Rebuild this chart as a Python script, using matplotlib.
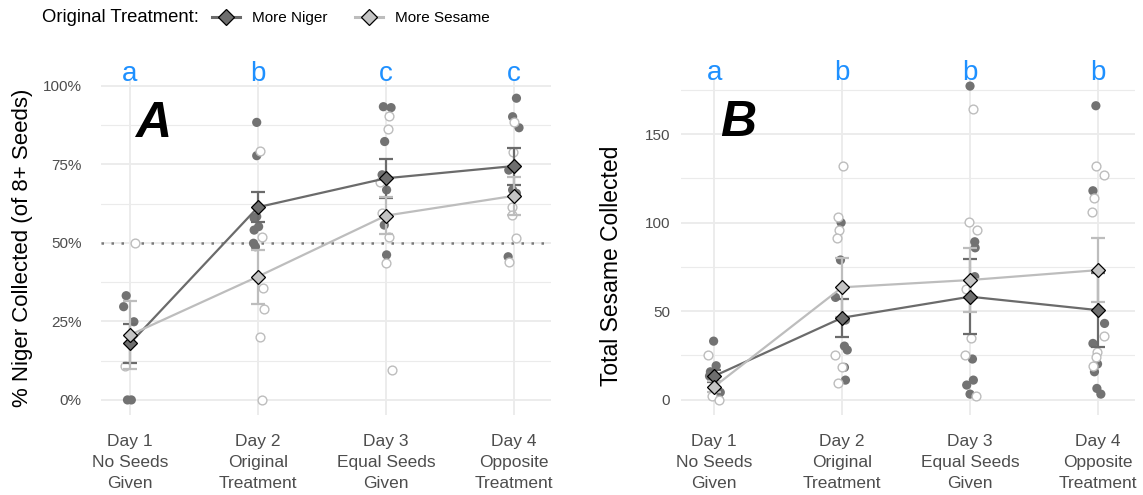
import numpy as np
import matplotlib
matplotlib.use("Agg")
import matplotlib.pyplot as plt
from matplotlib.lines import Line2D
from matplotlib.ticker import FuncFormatter, MultipleLocator

plt.rcParams['font.family'] = ['Liberation Sans', 'DejaVu Sans']

# ---------------- data ----------------
days = ["Day 1\nNo Seeds\nGiven", "Day 2\nOriginal\nTreatment",
        "Day 3\nEqual Seeds\nGiven", "Day 4\nOpposite\nTreatment"]
groups = ["More Niger", "More Sesame"]

# Panel A: % Niger collected (individual points, per day)
a_niger_pts = [[33.2, 29.7, 24.9, 0, 0],
               [88.4, 77.8, 57.9, 58.4, 55.2, 54.1, 49.9, 48.8],
               [93.4, 93.1, 82.3, 71.7, 66.9, 55.7, 46.2],
               [96.1, 90.2, 86.7, 73.2, 66.9, 65.8, 45.6]]
a_niger_jit = [[-0.03, -0.05, 0.03, -0.02, 0.01],
               [-0.01, -0.01, -0.03, -0.01, 0.005, -0.03, -0.035, -0.02],
               [-0.02, 0.04, -0.01, -0.03, 0.005, -0.013, 0.005],
               [0.02, -0.01, 0.04, -0.04, -0.01, 0.02, -0.045]]
a_ses_pts = [[50, 10.8],
             [79.4, 52.0, 35.6, 29.0, 20.0, 0],
             [90.4, 86.3, 69.5, 59.4, 52.0, 43.7, 9.6],
             [88.6, 79.1, 61.6, 58.9, 51.7, 44.0]]
a_ses_jit = [[0.04, -0.04],
             [0.013, 0.03, 0.04, 0.044, 0.018, 0.03],
             [0.02, 0.013, -0.047, -0.033, 0.026, 0.0, 0.045],
             [0.0, -0.01, -0.018, -0.018, 0.02, -0.037]]
a_niger_mean = [18.0, 61.4, 70.6, 74.5]
a_niger_se = [6.1, 4.7, 6.2, 5.9]
a_ses_mean = [20.7, 39.3, 58.7, 65.0]
a_ses_se = [10.7, 8.6, 6.0, 6.1]
a_letters = ["a", "b", "c", "c"]

# Panel B: total sesame collected
b_niger_pts = [[33.1, 19.2, 15.8, 13.4, 4.2, 0.8],
               [100, 78.9, 57.8, 45.0, 30.3, 28.1, 18.3, 11.1],
               [177.1, 89.2, 85.8, 69.5, 23.0, 11.1, 8.3, 3.2],
               [166, 118, 43.1, 31.8, 20.2, 15.8, 6.4, 3.2]]
b_niger_jit = [[-0.005, 0.015, -0.03, -0.037, 0.047, 0.034],
               [-0.008, -0.013, -0.052, 0.026, 0.018, 0.04, 0.018, 0.026],
               [0.0, 0.037, 0.04, 0.037, 0.019, 0.026, -0.026, 0.0],
               [-0.016, -0.039, 0.052, -0.039, -0.003, -0.027, -0.008, 0.023]]
b_ses_pts = [[25, 2.3, 0],
             [132, 103.3, 95.8, 91.1, 25.2, 18.3, 9.3],
             [164.1, 100.2, 95.8, 62.3, 35.0, 25.2, 2.1],
             [132, 126.9, 114.1, 106.2, 36.0, 27.1, 24.3, 19.2]]
b_ses_jit = [[-0.05, -0.018, 0.034],
             [0.008, -0.034, -0.026, -0.039, -0.052, 0.0, -0.034],
             [0.026, -0.008, 0.052, -0.034, 0.005, -0.042, 0.044],
             [-0.013, 0.044, -0.034, -0.047, 0.044, -0.008, -0.013, -0.039]]
b_niger_mean = [13.4, 46.3, 58.2, 50.6]
b_niger_se = [3.5, 10.7, 21.0, 21.0]
b_ses_mean = [7.4, 63.5, 67.6, 73.2]
b_ses_se = [3.0, 16.7, 18.2, 17.9]
b_letters = ["a", "b", "b", "b"]

# ---------------- style ----------------
DARK = "#6e6e6e"
DARK_LINE = "#6b6b6b"
LIGHT = "#bdbdbd"
LIGHT_FILL = "#c4c4c4"
GRID = "#ebebeb"
TICK_C = "#4d4d4d"
LETTER_C = "#1E90FF"

W, H = 1143, 495
fig = plt.figure(figsize=(W / 100, H / 100), dpi=100)
axA = fig.add_axes([101 / W, 1 - 415 / H, 450 / W, 335 / H])
axB = fig.add_axes([681 / W, 1 - 415 / H, 454 / W, 336 / H])


def draw_panel(ax, niger_pts, niger_jit, ses_pts, ses_jit,
               nm, nse, sm, sse, letters):
    xs = np.arange(1, len(days) + 1)
    for i, x in enumerate(xs):
        ax.scatter(x + np.array(niger_jit[i]), niger_pts[i], s=44,
                   color="#727272", edgecolors="none", zorder=3)
        ax.scatter(x + np.array(ses_jit[i]), ses_pts[i], s=40,
                   facecolors="white", edgecolors=LIGHT, linewidths=1.0,
                   zorder=3)
    ax.errorbar(xs, nm, yerr=nse, fmt="none", ecolor=DARK_LINE, elinewidth=1.6,
                capsize=5, capthick=1.6, zorder=4)
    ax.errorbar(xs, sm, yerr=sse, fmt="none", ecolor=LIGHT, elinewidth=1.6,
                capsize=5, capthick=1.6, zorder=4)
    ax.plot(xs, nm, color=DARK_LINE, lw=1.6, zorder=5)
    ax.plot(xs, sm, color=LIGHT, lw=1.6, zorder=5)
    ax.plot(xs, nm, ls="none", marker="D", ms=7, mfc=DARK, mec="black",
            mew=0.9, zorder=6)
    ax.plot(xs, sm, ls="none", marker="D", ms=7, mfc=LIGHT_FILL, mec="black",
            mew=0.9, zorder=7)
    for x, lt in zip(xs, letters):
        ax.text(x, 0.997, lt, transform=ax.get_xaxis_transform(),
                ha="center", va="baseline", fontsize=20, color=LETTER_C,
                clip_on=False)
    ax.set_xticks(xs)
    ax.set_xticklabels(days, fontsize=12.5, color=TICK_C, linespacing=1.5)
    ax.tick_params(axis="both", length=0)
    ax.tick_params(axis="x", pad=13.5)
    ax.tick_params(axis="y", labelsize=11, labelcolor=TICK_C)
    ax.grid(True, which="major", color=GRID, lw=1.3, zorder=0)
    ax.grid(True, which="minor", axis="y", color=GRID, lw=0.8, zorder=0)
    ax.tick_params(which="minor", length=0)
    for sp in ax.spines.values():
        sp.set_visible(False)
    ax.set_axisbelow(True)


draw_panel(axA, a_niger_pts, a_niger_jit, a_ses_pts, a_ses_jit,
           a_niger_mean, a_niger_se, a_ses_mean, a_ses_se, a_letters)
axA.set_xlim(0.773, 4.29)
axA.set_ylim(-4.8, 101.9)
axA.yaxis.set_major_locator(MultipleLocator(25))
axA.yaxis.set_minor_locator(MultipleLocator(12.5))
axA.yaxis.set_major_formatter(FuncFormatter(lambda v, p: f"{v:.0f}%"))
axA.tick_params(axis="y", pad=14)
axA.axhline(50, color="#7a7a7a", ls=(0, (1, 3)), lw=1.8, zorder=2)
axA.set_ylabel("% Niger Collected (of 8+ Seeds)", fontsize=16, color="black")
axA.yaxis.set_label_coords(-68 / 450, 0.5)
axA.text(0.116, 0.87, "A", transform=axA.transAxes, fontsize=36,
         fontweight="bold", fontstyle="italic", ha="center", va="center")

draw_panel(axB, b_niger_pts, b_niger_jit, b_ses_pts, b_ses_jit,
           b_niger_mean, b_niger_se, b_ses_mean, b_ses_se, b_letters)
axB.set_xlim(0.74, 4.29)
axB.set_ylim(-8.6, 181.1)
axB.yaxis.set_major_locator(MultipleLocator(50))
axB.yaxis.set_minor_locator(MultipleLocator(25))
axB.tick_params(axis="y", pad=8)
axB.set_ylabel("Total Sesame Collected", fontsize=16.5, color="black")
axB.yaxis.set_label_coords(-58 / 454, 0.445)
axB.text(0.125, 0.87, "B", transform=axB.transAxes, fontsize=36,
         fontweight="bold", fontstyle="italic", ha="center", va="center")

# ---------------- legend ----------------
fig.text(42 / W, 1 - 18 / H, "Original Treatment:", fontsize=13.3,
         ha="left", va="center")
handles = [Line2D([], [], color=DARK_LINE, lw=2.2, marker="D", ms=8,
                  mfc=DARK, mec="black", mew=0.9),
           Line2D([], [], color=LIGHT, lw=2.2, marker="D", ms=8,
                  mfc=LIGHT_FILL, mec="black", mew=0.9)]
fig.legend(handles, groups, ncol=2, loc="center left",
           bbox_to_anchor=(212 / W, 1 - 18 / H), frameon=False, fontsize=11,
           handlelength=1.8, handletextpad=0.8, columnspacing=1.85,
           borderpad=0, borderaxespad=0)

fig.savefig("out.png", dpi=100, facecolor="white")
